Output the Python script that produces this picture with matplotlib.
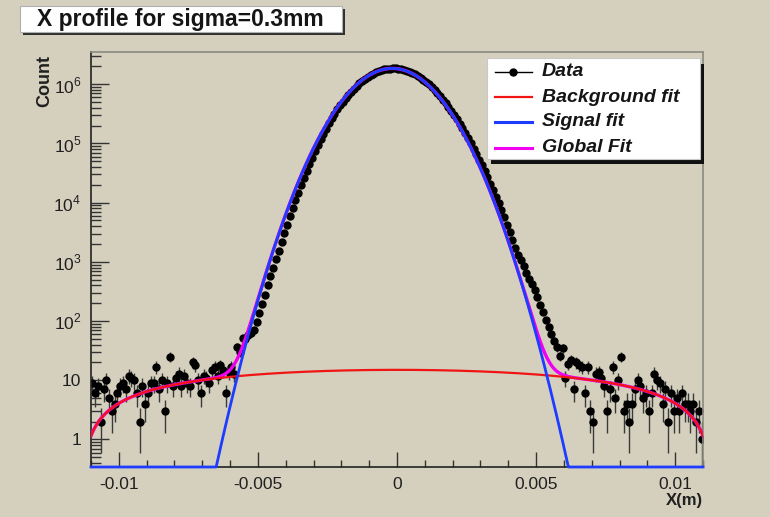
import numpy as np
import matplotlib
matplotlib.use('Agg')
import matplotlib.pyplot as plt
from matplotlib.lines import Line2D
from matplotlib.patches import Rectangle
from matplotlib.ticker import LogLocator, MultipleLocator, NullFormatter

# histogram: 220 bins of 0.0001 m over [-0.011, 0.011]
bin_x = np.linspace(-0.01095, 0.01095, 220)
counts = [
    9, 6, 8, 2, 7, 10, 5, 3, 4, 6,
    8, 9, 7, 12, 11, 10, 6, 2, 8, 4,
    6, 9, 9, 17, 7, 10, 3, 9, 25, 8,
    11, 13, 8, 12, 9, 8, 20, 18, 10, 6,
    12, 11, 9, 15, 17, 12, 18, 15, 6, 14,
    17, 13, 36, 30, 52, 50, 58, 62, 72, 97,
    138, 196, 280, 399, 566, 788, 1110, 1552, 2153, 3047,
    4256, 5890, 8080, 10990, 14800, 19770, 26160, 34310, 44620, 57500,
    73400, 92950, 116600, 145000, 178600, 218200, 264100, 316800, 375800, 438000,
    506500, 581300, 662000, 747900, 838700, 932900, 1030000, 1129000, 1227000, 1323000,
    1417000, 1505000, 1586000, 1659000, 1722000, 1773000, 1812000, 1838000, 1849000, 1846000,
    1829000, 1798000, 1754000, 1698000, 1631000, 1555000, 1471000, 1380000, 1285000, 1188000,
    1089000, 991100, 895000, 802000, 713100, 629200, 550700, 478400, 412800, 354900,
    302800, 256600, 215700, 180200, 149300, 122900, 100300, 81320, 65590, 52910,
    42400, 33760, 26690, 20970, 16360, 12690, 9763, 7466, 5673, 4265,
    3187, 2364, 1744, 1330, 1060, 840, 660, 520, 420, 330,
    250, 185, 140, 105, 78, 60, 46, 36, 26, 35,
    11, 19, 22, 7, 20, 18, 17, 6, 17, 3,
    2, 13, 14, 11, 8, 3, 7, 17, 5, 10,
    25, 3, 4, 2, 4, 7, 10, 8, 5, 6,
    3, 6, 13, 10, 9, 4, 7, 2, 6, 3,
    5, 3, 6, 4, 4, 3, 4, 2, 3, 1,
]

# fit parameters
signal_par = [1.85e6, -0.00017, 0.001137]   # constant, mean, sigma
bkg_par = [15.0, -11.85, -2.0]              # p0 + p1*u + p2*u^3, u = (x/0.011)^2

x_ticks = [-0.01, -0.005, 0, 0.005, 0.01]
x_tick_labels = ['-0.01', '-0.005', '0', '0.005', '0.01']
y_ticks = [1, 10, 1e2, 1e3, 1e4, 1e5, 1e6]
y_tick_labels = ['1', '10', '$10^{2}$', '$10^{3}$', '$10^{4}$', '$10^{5}$', '$10^{6}$']
legend_labels = ['Data', 'Background fit', 'Signal fit', 'Global Fit']

bg = '#d5d0be'
red = '#f01414'
blue = '#1e3cff'
magenta = '#f000f0'

plt.rcParams['font.family'] = ['Liberation Sans', 'DejaVu Sans']
plt.rcParams['mathtext.fontset'] = 'custom'
plt.rcParams['mathtext.rm'] = 'Liberation Sans'

W, H = 770, 517
fig = plt.figure(figsize=(W / 100, H / 100), dpi=100, facecolor=bg)
ax = fig.add_axes([91 / W, 1 - 467 / H, 612 / W, 415 / H], facecolor=bg)

xmin, xmax = -0.011, 0.011
ymin, ymax = 0.343, 3.5e6

# data with sqrt(N) errors
cnt = np.array(counts, dtype=float)
err = np.sqrt(cnt)
lower = np.minimum(err, cnt - 0.01)
ax.errorbar(bin_x, cnt, yerr=[lower, err], fmt='o', color='black', ms=5,
            ecolor='#3a3a3a', elinewidth=1, capsize=0, zorder=2)

# fitted functions
xf = np.linspace(xmin, xmax, 1200)
amp, mu, sig = signal_par
signal = amp * np.exp(-(xf - mu) ** 2 / (2 * sig ** 2))
u = (xf / 0.011) ** 2
bkg = bkg_par[0] + bkg_par[1] * u + bkg_par[2] * u ** 3
glob = signal + bkg

ax.plot(xf, glob, color=magenta, lw=2.4, zorder=3)
ax.plot(xf, bkg, color=red, lw=1.6, zorder=4)
ax.plot(xf, np.maximum(signal, ymin), color=blue, lw=2.0, zorder=5, clip_on=False)

ax.set_yscale('log')
ax.set_xlim(xmin, xmax)
ax.set_ylim(ymin, ymax)

ax.set_xticks(x_ticks)
ax.set_xticklabels(x_tick_labels)
ax.xaxis.set_minor_locator(MultipleLocator(0.001))
ax.set_yticks(y_ticks)
ax.set_yticklabels(y_tick_labels)
ax.yaxis.set_minor_locator(LogLocator(base=10, subs=np.arange(2, 10)))
ax.yaxis.set_minor_formatter(NullFormatter())

ax.tick_params(axis='both', which='both', direction='in', colors='#333333',
               labelcolor='#202020', labelsize=12.5, width=1)
ax.tick_params(axis='x', which='major', length=10.5, pad=7)
ax.tick_params(axis='x', which='minor', length=5)
ax.tick_params(axis='y', which='major', length=13, pad=7)
ax.tick_params(axis='y', which='minor', length=7)

for side in ['left', 'bottom']:
    ax.spines[side].set_color('#222222')
    ax.spines[side].set_linewidth(1.2)
for side in ['top', 'right']:
    ax.spines[side].set_color('#8a8a80')
    ax.spines[side].set_linewidth(1.2)

fig.text(45 / W, 1 - 55 / H, 'Count', rotation=90, ha='center', va='top',
         fontsize=13, fontweight='bold', color='#202020')
fig.text(703 / W, 1 - 501 / H, 'X(m)', ha='right', va='center',
         fontsize=12, fontweight='bold', color='#202020')

# title pave
fig.patches.append(Rectangle((23 / W, 1 - 35 / H), 322 / W, 26 / H,
                             transform=fig.transFigure, facecolor='#303030',
                             edgecolor='none', zorder=1))
fig.patches.append(Rectangle((20 / W, 1 - 32 / H), 322 / W, 26 / H,
                             transform=fig.transFigure, facecolor='white',
                             edgecolor='#b0b0b0', lw=0.8, zorder=2))
fig.text(37 / W, 1 - 19.5 / H, 'X profile for sigma=0.3mm', ha='left', va='center',
         fontsize=16.5, fontweight='bold', color='#151515', zorder=3)

# legend pave
fig.patches.append(Rectangle((491 / W, 1 - 164 / H), 213 / W, 100 / H,
                             transform=fig.transFigure, facecolor='#101010',
                             edgecolor='none', zorder=6))
fig.patches.append(Rectangle((487 / W, 1 - 159 / H), 213 / W, 101 / H,
                             transform=fig.transFigure, facecolor='white',
                             edgecolor='#c8c8c8', lw=0.8, zorder=7))
entry_y = [72, 97, 122, 148]
styles = [dict(color='black', lw=1, marker='o', ms=5, markevery=[1]),
          dict(color=red, lw=1.6), dict(color=blue, lw=2.2), dict(color=magenta, lw=2.2)]
for yy, lab, st in zip(entry_y, legend_labels, styles):
    yf = 1 - yy / H
    fig.lines.append(Line2D([495 / W, 513 / W, 532 / W], [yf, yf, yf],
                            transform=fig.transFigure, zorder=8, **st))
    fig.text(542 / W, yf, lab, ha='left', va='center', fontsize=14,
             fontweight='bold', fontstyle='italic', color='#151515', zorder=9)

fig.savefig('out.png', dpi=100, facecolor=bg)
